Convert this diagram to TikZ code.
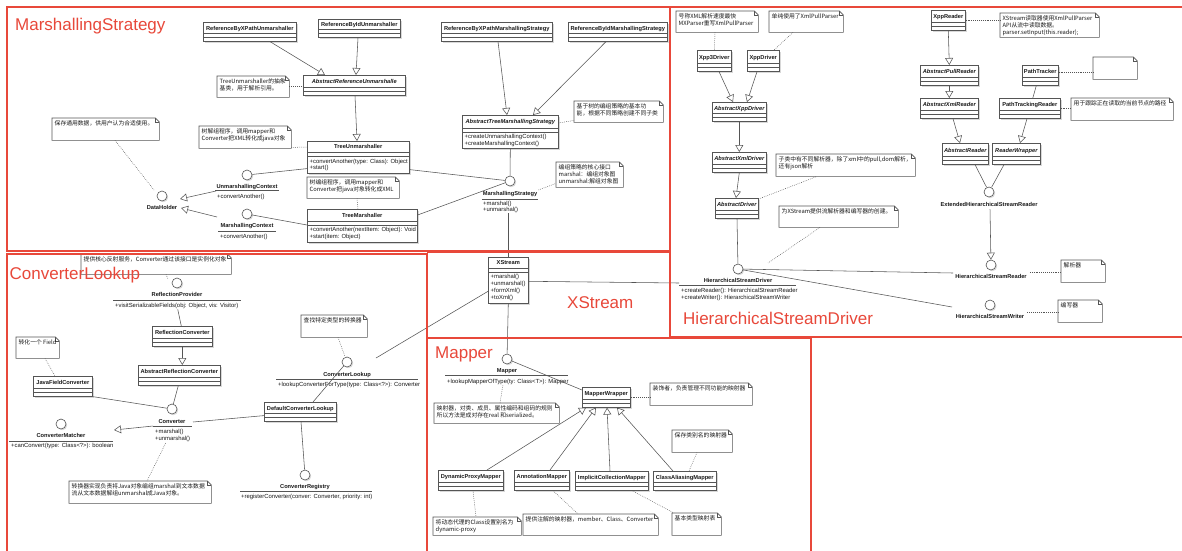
\documentclass[tikz,border=0pt]{standalone}
\usepackage{fontspec}
\setmainfont{Liberation Sans}
\newfontfamily\cjk{Noto Sans CJK SC}
\usetikzlibrary{calc,arrows.meta,shadows}
\definecolor{frame}{RGB}{232,72,58}
\definecolor{ln}{RGB}{85,85,85}
\definecolor{tx}{RGB}{25,25,25}
\tikzset{
 clsbox/.style={draw=ln, fill=white, line width=0.6pt, inner sep=0pt,
   drop shadow={shadow xshift=1.3pt, shadow yshift=-1.3pt, fill=black!30, opacity=0.5}},
 cline/.style={draw=ln, line width=0.5pt},
 clsname/.style={inner sep=0pt, text=tx, font=\fontsize{5.7}{6.5}\selectfont\bfseries},
 meth/.style={inner sep=0pt, text=tx, align=left, font=\fontsize{5.9}{6.8}\selectfont},
 ifc/.style={circle, draw=ln, fill=white, line width=0.6pt, minimum size=10pt, inner sep=0pt,
   drop shadow={shadow xshift=1.2pt, shadow yshift=-1.2pt, fill=black!30, opacity=0.5}},
 ilbl/.style={inner sep=0pt, text=tx, font=\fontsize{5.7}{6.5}\selectfont\bfseries, anchor=base},
 ul/.style={draw=ln, line width=0.5pt},
 notebox/.style={inner sep=0pt},
 noteline/.style={draw=ln, line width=0.6pt, fill=white},
 notetext/.style={inner sep=0pt, text=tx, align=left, font=\cjk\fontsize{5.8}{7.2}\selectfont},
 assoc/.style={draw=ln, line width=0.55pt},
 gen/.style={draw=ln, line width=0.55pt, -{Triangle[open, length=7pt, width=8pt]}},
 dots/.style={draw=ln, line width=0.5pt, dash pattern=on 0.7pt off 1.2pt},
 frm/.style={draw=frame, line width=2pt},
 sect/.style={text=frame, inner sep=0pt, anchor=base west, font=\fontsize{17}{20}\selectfont},
}
% class with empty compartments: [font] id x y w h name
\newcommand\ucls[7][]{%
 \node[clsbox, minimum width=#5, minimum height=#6, anchor=north west] (#2) at (#3,#4) {};
 \node[clsname, anchor=base] at ($(#2.south)+(0,{-(#6+8)/2+2.1})$) {#1#7};
 \draw[cline] ($(#2.south west)+(0,-8)$) -- ($(#2.south east)+(0,-8)$);
 \draw[cline] ($(#2.south west)+(0,-4)$) -- ($(#2.south east)+(0,-4)$);}
% class with methods: [font] id x y w h name nameheight methods
\newcommand\mcls[9][]{%
 \node[clsbox, minimum width=#5, minimum height=#6, anchor=north west] (#2) at (#3,#4) {};
 \node[clsname, anchor=base] at ($(#2.north)+(0,{#8/2+2.1})$) {#1#7};
 \draw[cline] ($(#2.north west)+(0,#8)$) -- ($(#2.north east)+(0,#8)$);
 \draw[cline] ($(#2.north west)+(0,{#8+4})$) -- ($(#2.north east)+(0,{#8+4})$);
 \node[meth, anchor=north west] (#2-m) at ($(#2.north west)+(2.5,{#8+6.2})$) {#9};}
% interface lollipop: id x y label labeldy
\newcommand\ifcn[5]{%
 \node[ifc] (#1) at (#2,#3) {};
 \node[ilbl] (#1-l) at (#2,#3+#5) {#4};}
% note: id x1 y1 x2 y2 text
\newcommand\unote[6]{%
 \node[notebox, minimum width={#4-#2}, minimum height={#5-#3}, anchor=north west] (#1) at (#2,#3) {};
 \draw[noteline] (#1.north west) -- ($(#1.north east)+(-4,0)$) -- ($(#1.north east)+(0,4)$) -- (#1.south east) -- (#1.south west) -- cycle;
 \draw[noteline, fill=none] ($(#1.north east)+(-4,0)$) -- ($(#1.north east)+(-4,4)$) -- ($(#1.north east)+(0,4)$);
 \node[notetext, anchor=north west] at ($(#1.north west)+(2.5,2)$) {#6};}

\begin{document}
\begin{tikzpicture}[x=1pt,y=-1pt]
\useasboundingbox[fill=white] (0,0) rectangle (1182,550);

% ---------------- notes ----------------
\unote{n1}{217}{76}{289}{97}{TreeUnmarshaller的抽象\\基类，用于解析引用。}
\unote{n2}{52}{118}{159}{140}{保存通用数据，供用户认为合适使用。}
\unote{n3}{199}{126}{291}{148}{树解组程序，调用mapper和\\Converter把XML转化成java对象}
\unote{n4}{307}{177}{399}{198}{树编组程序，调用mapper和\\Converter把java对象转化成XML}
\unote{n5}{574}{101}{663}{122}{基于树的编组策略的基本功\\能，根据不同策略创建不同子类}
\unote{n6}{556}{162}{623}{187}{编组策略的核心接口\\marshal：编组对象图\\unmarshal:解组对象图}
\unote{n7}{676}{11}{758}{32}{号称XML解析速度最快\\MXParser重写XmlPullParser}
\unote{n8}{769}{11}{843}{32}{单纯使用了XmlPullParser}
\unote{n9}{776}{154}{915}{176}{子类中有不同解析器，除了xml中的pull,dom解析，\\还有json解析}
\unote{n10}{779}{206}{898}{227}{为XStream提供流解析器和编写器的创建。}
\unote{n11}{1000}{13}{1099}{37}{XStream读取器使用XmlPullParser\\API从流中读取数据。\\parser.setInput(this.reader);}
\unote{n12}{1093}{57}{1137}{79}{}
\unote{n13}{1071}{98}{1173}{120}{用于跟踪正在读取的当前节点的路径}
\unote{n14}{1061}{260}{1105}{282}{解析器}
\unote{n15}{1058}{300}{1102}{322}{编写器}
\unote{n16}{81}{254}{231}{274}{提供核心反射服务，Converter通过该接口是实例化对象}
\unote{n17}{16}{337}{59}{358}{转化一个 Field}
\unote{n18}{69}{481}{211}{503}{转换器实现负责将Java对象编组marshal到文本数据\\流从文本数据解组unmarshal成Java对象。}
\unote{n19}{301}{315}{367}{337}{查找特定类型的转换器}
\unote{n20}{434}{403}{559}{423}{映射器，对类、成员、属性编码和组码的规则\\所以方法是成对存在real 和serialized。}
\unote{n21}{650}{383}{752}{405}{装饰者，负责管理不同功能的映射器}
\unote{n22}{672}{430}{732}{452}{保存类别名的映射器}
\unote{n23}{433}{517}{521}{535}{将动态代理的Class设置别名为\\dynamic-proxy}
\unote{n24}{523}{514}{658}{535}{提供注解的映射器，member、Class、Converter}
\unote{n25}{672}{513}{721}{535}{基本类型映射表}

% ---------------- classes ----------------
\ucls{rxu}{203}{22}{93}{19}{ReferenceByXPathUnmarshaller}
\ucls{riu}{318}{19}{82}{18}{ReferenceByIdUnmarshaller}
\ucls[\itshape]{aru}{303}{75}{102}{20}{AbstractReferenceUnmarshalle}
\mcls{tu}{307}{141}{102}{32}{TreeUnmarshaller}{11.5}{+convertAnother(type: Class): Object\\+start()}
\mcls{tm}{307}{209}{110}{33}{TreeMarshaller}{12}{+convertAnother(nextItem: Object): Void\\+start(item: Object)}
\mcls[\itshape]{ats}{462}{115}{96}{33}{AbstractTreeMarshallingStrategy}{13}{+createUnmarshallingContext()\\+createMarshallingContext()}
\ucls{rxm}{441}{22}{111}{19}{ReferenceByXPathMarshallingStrategy}
\ucls{rim}{568}{22}{99}{19}{ReferenceByIdMarshallingStrategy}
\ucls{x3d}{697}{50}{34}{21}{Xpp3Driver}
\ucls{xd}{747}{50}{32}{21}{XppDriver}
\ucls[\itshape]{axd}{712}{102}{54}{19}{AbstractXppDriver}
\ucls[\itshape]{axmd}{712}{152}{54}{20}{AbstractXmlDriver}
\ucls[\itshape]{ad}{715}{198}{43}{20}{AbstractDriver}
\ucls{xr}{931}{10}{34}{20}{XppReader}
\ucls[\itshape]{apr}{920}{65}{58}{20}{AbstractPullReader}
\ucls[\itshape]{axr}{920}{98}{58}{20}{AbstractXmlReader}
\ucls{pt}{1022}{65}{36}{20}{PathTracker}
\ucls{ptr}{999}{98}{61}{20}{PathTrackingReader}
\ucls[\itshape]{ar}{942}{143}{46}{21}{AbstractReader}
\ucls[\itshape]{rw}{992}{143}{48}{21}{ReaderWrapper}
\mcls{xs}{488}{257}{40}{46}{XStream}{11.3}{+marshal()\\+unmarshal()\\+formXml()\\+toXml()}
\ucls{rc}{152}{326}{60}{20}{ReflectionConverter}
\ucls{arc}{138}{365}{82}{20}{AbstractReflectionConverter}
\ucls{jfc}{33}{376}{59}{20}{JavaFieldConverter}
\ucls{dcl}{264}{402}{72}{19}{DefaultConverterLookup}
\ucls{mw}{582}{387}{48}{20}{MapperWrapper}
\ucls{dpm}{438}{470}{65}{20}{DynamicProxyMapper}
\ucls{am}{514}{470}{55}{20}{AnnotationMapper}
\ucls{icm}{575}{471}{73}{19}{ImplicitCollectionMapper}
\ucls{cam}{653}{471}{63}{19}{ClassAliasingMapper}

% ---------------- interfaces ----------------
\ifcn{dh}{162}{196}{DataHolder}{13.7}
\ifcn{uc}{247}{175}{UnmarshallingContext}{13}
\coordinate (uc-u) at (215,190.7); \draw[ul] (uc-u) -- ++(64,0);
\node[meth, anchor=base west] (uc-m) at (217,198.7) {+convertAnother()};
\ifcn{mc}{247}{214}{MarshallingContext}{13.7}
\coordinate (mc-u) at (218,231); \draw[ul] (mc-u) -- ++(58,0);
\node[meth, anchor=base west] (mc-m) at (220,238) {+convertAnother()};
\ifcn{ms}{510}{181}{MarshallingStrategy}{14.3}
\coordinate (ms-u) at (482,199); \draw[ul] (ms-u) -- ++(56,0);
\node[meth, anchor=north west] (ms-m) at (483,200.7) {+marshal()\\+unmarshal()};
\ifcn{hsd}{738}{269}{HierarchicalStreamDriver}{13}
\coordinate (hsd-u) at (679,285); \draw[ul] (hsd-u) -- ++(117,0);
\node[meth, anchor=north west] (hsd-m) at (681,288.4) {+createReader(): HierarchicalStreamReader\\+createWriter(): HierarchicalStreamWriter};
\ifcn{ehsr}{989}{192}{ExtendedHierarchicalStreamReader}{14}
\ifcn{hsr}{991}{265}{HierarchicalStreamReader}{13}
\ifcn{hsw}{990}{305}{HierarchicalStreamWriter}{13}
\ifcn{rp}{177}{283}{ReflectionProvider}{13.3}
\coordinate (rp-u) at (113,300); \draw[ul] (rp-u) -- ++(128,0);
\node[meth, anchor=base west] (rp-m) at (115,307) {+visitSerializableFields(obj: Object, vis: Visitor)};
\ifcn{conv}{172}{409}{Converter}{14}
\coordinate (conv-u) at (153,426); \draw[ul] (conv-u) -- ++(39,0);
\node[meth, anchor=north west] (conv-m) at (155,429.4) {+marshal()\\+unmarshal()};
\ifcn{cm}{61}{424}{ConverterMatcher}{13.7}
\coordinate (cm-u) at (9,441); \draw[ul] (cm-u) -- ++(104,0);
\node[meth, anchor=base west] (cm-m) at (11,447.7) {+canConvert(type: Class<?>): boolean};
\ifcn{clk}{347}{362}{ConverterLookup}{14}
\coordinate (clk-u) at (276,379); \draw[ul] (clk-u) -- ++(142,0);
\node[meth, anchor=base west] (clk-m) at (278,386.3) {+lookupConverterForType(type: Class<?>): Converter};
\ifcn{cr}{305}{475}{ConverterRegistry}{13}
\coordinate (cr-u) at (240,491); \draw[ul] (cr-u) -- ++(132,0);
\node[meth, anchor=base west] (cr-m) at (241,498.7) {+registerConverter(conver: Converter, priority: int)};
\ifcn{mp}{507}{359}{Mapper}{13.7}
\coordinate (mp-u) at (445,375.7); \draw[ul] (mp-u) -- ++(123,0);
\node[meth, anchor=base west] (mp-m) at (447,383) {+lookupMapperOfType(ty: Class<T>): Mapper};

% ---------------- connectors: MarshallingStrategy ----------------
\draw[gen] ($(rxu.south west)+(67,0)$) -- ($(aru.north west)+(22,0)$);
\draw[gen] ($(riu.south west)+(40,0)$) -- ($(aru.north west)+(53,0)$);
\draw[gen] ($(aru.south west)+(52,0)$) -- ($(tu.north west)+(50,0)$);
\draw[gen] ($(rxm.south west)+(57,0)$) -- ($(ats.north west)+(45,0)$);
\draw[gen] ($(rim.south west)+(38,0)$) -- ($(ats.north west)+(71,0)$);
\draw[assoc] (ats.south) -- (ms);
\draw[assoc] ($(tu.south east)+(0,-4)$) -- (ms);
\draw[assoc] ($(tm.north east)+(0,6)$) -- (ms);
\draw[assoc] (uc) -- ($(tu.south west)+(0,-5)$);
\draw[assoc] (mc) -- ($(tm.north west)+(0,16)$);
\draw[gen] ($(uc-u)+(1,0.3)$) -- ($(dh)+(18,3)$);
\draw[gen] ($(mc)+(-30,3)$) -- ($(dh)+(19,12)$);
\draw[dots] ($(n2.south west)+(63,0)$) -- ($(dh)+(-8,-6)$);
\draw[dots] (n1.east) -- (n1.east -| aru.west);
\draw[dots] ($(n3.south east)+(0,-1)$) -- ($(tu.north west)+(0,6)$);
\draw[dots] ($(n4.south west)+(50,0)$) -- ($(tm.north west)+(51,0)$);
\draw[dots] ($(ats.north east)+(0,8)$) -- ($(n5.south west)+(0,-2)$);
\draw[dots] ($(ms-l.north east)+(1,-1)$) -- ($(n6.south west)+(0,-4)$);
\draw[assoc] (xs.north) -- (xs.north |- ms-m.south);

% ---------------- connectors: HierarchicalStreamDriver ----------------
\draw[dots] ($(n7.south west)+(39,0)$) -- (x3d.north);
\draw[dots] ($(n8.south west)+(24,0)$) -- ($(xd.north west)+(27,0)$);
\draw[gen] ($(x3d.south west)+(22,0)$) -- ($(axd.north west)+(21,0)$);
\draw[gen] ($(xd.south west)+(10,0)$) -- ($(axd.north west)+(35,0)$);
\draw[gen] (axd.south) -- (axmd.north);
\draw[gen] (axmd.south) -- ($(ad.north west)+(21,0)$);
\draw[dots] ($(ad.north east)+(0,1)$) -- ($(n9.south west)+(41,0)$);
\coordinate (n10end) at (768,263);
\draw[dots] ($(n10.south west)+(41,0)$) -- (n10end);
\draw[assoc] ($(ad.south west)+(22,0)$) -- (hsd);
\draw[assoc] (hsd) -- ($(hsr)+(-38,8)$);
\draw[assoc] (hsd) -- ($(hsw)+(-38,2)$);
\draw[assoc] ($(xs.east)+(0,1)$) -- ($(hsd-u)+(0,-2)$);
\draw[dots] (xr.east) -- (xr.east -| n11.west);
\draw[gen] (xr.south) -- (apr.north);
\draw[gen] (apr.south) -- (axr.north);
\draw[dots] ($(pt.east)+(0,-3)$) -- ($(pt.east -| n12.west)+(0,-3)$);
\draw[assoc] ($(pt.south)+(-4,0)$) -- ($(ptr.north)+(3,0)$);
\draw[dots] (ptr.east) -- (ptr.east -| n13.west);
\draw[gen] ($(axr.south west)+(33,0)$) -- ($(ar.north west)+(18,0)$);
\draw[gen] ($(ptr.south west)+(28,0)$) -- ($(rw.north west)+(28,0)$);
\draw[assoc] ($(ar.south west)+(33,0)$) -- (ehsr);
\draw[assoc] ($(rw.south west)+(12,0)$) -- (ehsr);
\draw[gen] ($(ehsr-l.south)+(1,3)$) -- (hsr);
\draw[dots] ($(hsr-l.north east)+(3,-1)$) -- ($(hsr-l.north east -| n14.west)+(0,-1)$);
\draw[dots] ($(hsw-l.north east)+(3,-1)$) -- ($(hsw-l.north east -| n15.west)+(0,-1)$);

% ---------------- connectors: ConverterLookup ----------------
\coordinate (xsEnd) at (376,358);
\draw[assoc] ($(xs.west)+(0,11)$) -- (xsEnd);
\draw[dots] ($(n16.south west)+(85,0)$) -- ($(rp)+(-9,-4)$);
\draw[assoc] ($(rp-m.south)+(1,1)$) -- ($(rc.north)+(-1,0)$);
\draw[gen] (rc.south) -- (rc.south |- arc.north);
\draw[assoc] ($(arc.south)+(-1,0)$) -- (conv);
\draw[dots] ($(n17.south west)+(29,0)$) -- ($(jfc.north west)+(22,0)$);
\draw[assoc] (jfc.south east) -- (conv);
\draw[assoc] ($(dcl.south west)+(0,-6)$) -- ($(conv-u)+(40,-4)$);
\draw[gen] (conv-u) -- ($(cm)+(53,6)$);
\draw[dots] ($(conv-m.south)+(-7,1)$) -- ($(n18.north west)+(78,0)$);
\draw[dots] ($(n19.south west)+(37,0)$) -- (clk);
\draw[assoc] ($(dcl.north west)+(49,0)$) -- (clk);
\draw[assoc] ($(dcl.south west)+(37,0)$) -- (cr);

% ---------------- connectors: Mapper ----------------
\draw[assoc] (xs.south) -- (mp);
\draw[assoc] (mp) -- ($(mw.north west)+(0,3)$);
\draw[dots] ($(n20.north west)+(66,0)$) -- ($(mp-m.south west)+(56,0)$);
\draw[dots] (mw.east) -- (mw.east -| n21.west);
\draw[gen] ($(dpm.north west)+(49,0)$) -- ($(mw.south west)+(4,0)$);
\draw[gen] ($(am.north west)+(36,0)$) -- ($(mw.south west)+(14,0)$);
\draw[gen] ($(icm.north west)+(35,0)$) -- ($(mw.south west)+(25,0)$);
\draw[gen] ($(cam.north west)+(20,0)$) -- ($(mw.south west)+(35,0)$);
\draw[dots] ($(dpm.south west)+(35,0)$) -- ($(n23.north west)+(43,0)$);
\draw[dots] ($(am.south west)+(39,0)$) -- ($(n24.north west)+(55,0)$);
\draw[dots] ($(n22.south west)+(25,0)$) -- ($(cam.north west)+(36,0)$);
\draw[dots] ($(icm.south west)+(57,0)$) -- ($(n25.north west)+(2,0)$);

% ---------------- frames and section titles ----------------
\draw[frm] (7,7) rectangle (670,251);
\draw[frm] (670,7) -- (1184,7);
\draw[frm] (670,7) -- (670,337) -- (1184,337);
\draw[frm] (7,552) -- (7,254) -- (427,254) -- (427,552);
\draw[frm] (427,252) -- (670,252);
\draw[frm] (427,338) -- (811,338) -- (811,552);
\node[sect] (t-ms) at (15,30.5) {MarshallingStrategy};
\node[sect] (t-cl) at (9.5,279) {ConverterLookup};
\node[sect] (t-xs) at (567,308) {XStream};
\node[sect] (t-mp) at (435,358.5) {Mapper};
\node[sect] (t-hsd) at (683,324) {HierarchicalStreamDriver};
\end{tikzpicture}
\end{document}
